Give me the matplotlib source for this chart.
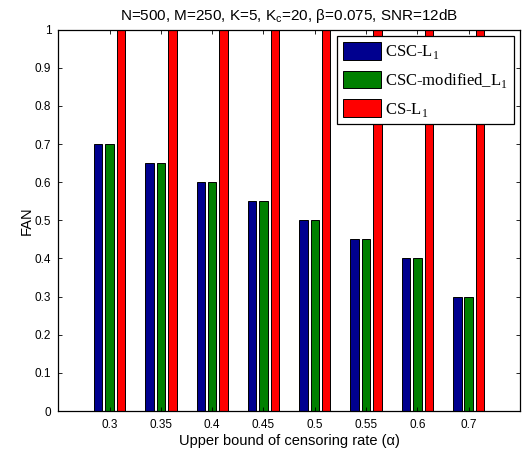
import numpy as np
import matplotlib
matplotlib.use("Agg")
import matplotlib.pyplot as plt

# censoring-rate upper bounds (x categories) and FAN per method
alpha_labels = ["0.3", "0.35", "0.4", "0.45", "0.5", "0.55", "0.6", "0.7"]
fan_csc = [0.70, 0.65, 0.60, 0.55, 0.50, 0.45, 0.40, 0.30]
fan_csc_mod = [0.70, 0.65, 0.60, 0.55, 0.50, 0.45, 0.40, 0.30]
fan_cs = [1.0, 1.0, 1.0, 1.0, 1.0, 1.0, 1.0, 1.0]
series_names = ["CSC-L$_\\mathregular{1}$", "CSC-modified_L$_\\mathregular{1}$", "CS-L$_\\mathregular{1}$"]

plt.rcParams["font.family"] = ["Liberation Sans", "DejaVu Sans"]

fig = plt.figure(figsize=(5.24, 4.57), dpi=100)
ax = fig.add_axes([58.3 / 524, 46 / 457, 461.7 / 524, 381.3 / 457])

x = np.arange(1, len(alpha_labels) + 1)
step, w = 0.222, 0.165
cols = ["#00008f", "#008000", "#ff0000"]
for k, (vals, c, nm) in enumerate(zip([fan_csc, fan_csc_mod, fan_cs], cols, series_names)):
    ax.bar(x + (k - 1) * step, vals, width=w, color=c, edgecolor="black", linewidth=0.7, label=nm)

ax.set_xlim(0, 9)
ax.set_ylim(0, 1)
ax.set_xticks(x)
ax.set_xticklabels(alpha_labels)
ax.set_yticks(np.arange(0, 1.01, 0.1))
ax.set_yticklabels(["0"] + [f"{v:.1f}" for v in np.arange(0.1, 0.95, 0.1)] + ["1"])
ax.tick_params(direction="in", top=True, right=True, length=3, width=0.6, labelsize=8.5)
ax.tick_params(axis="x", pad=6)
ax.tick_params(axis="y", pad=5)
for s in ax.spines.values():
    s.set_linewidth(0.9)

ax.set_xlabel("Upper bound of censoring rate (\u03b1)", fontsize=10.5, labelpad=2)
ax.set_ylabel("FAN", fontsize=10.5)
ax.yaxis.set_label_coords(-0.054, 0.5)
ax.set_title("N=500, M=250, K=5, K$_\\mathregular{c}$=20, \u03b2=0.075, SNR=12dB", fontsize=11, pad=7)

leg = ax.legend(loc="upper right", bbox_to_anchor=(0.987, 0.983), prop={"family": "Liberation Serif", "size": 12},
                fancybox=False, edgecolor="black", framealpha=1, handlelength=2.3, handleheight=1.25,
                borderpad=0.35, labelspacing=0.55, handletextpad=0.25, borderaxespad=0)
leg.get_frame().set_linewidth(0.9)

fig.savefig("out.png")
